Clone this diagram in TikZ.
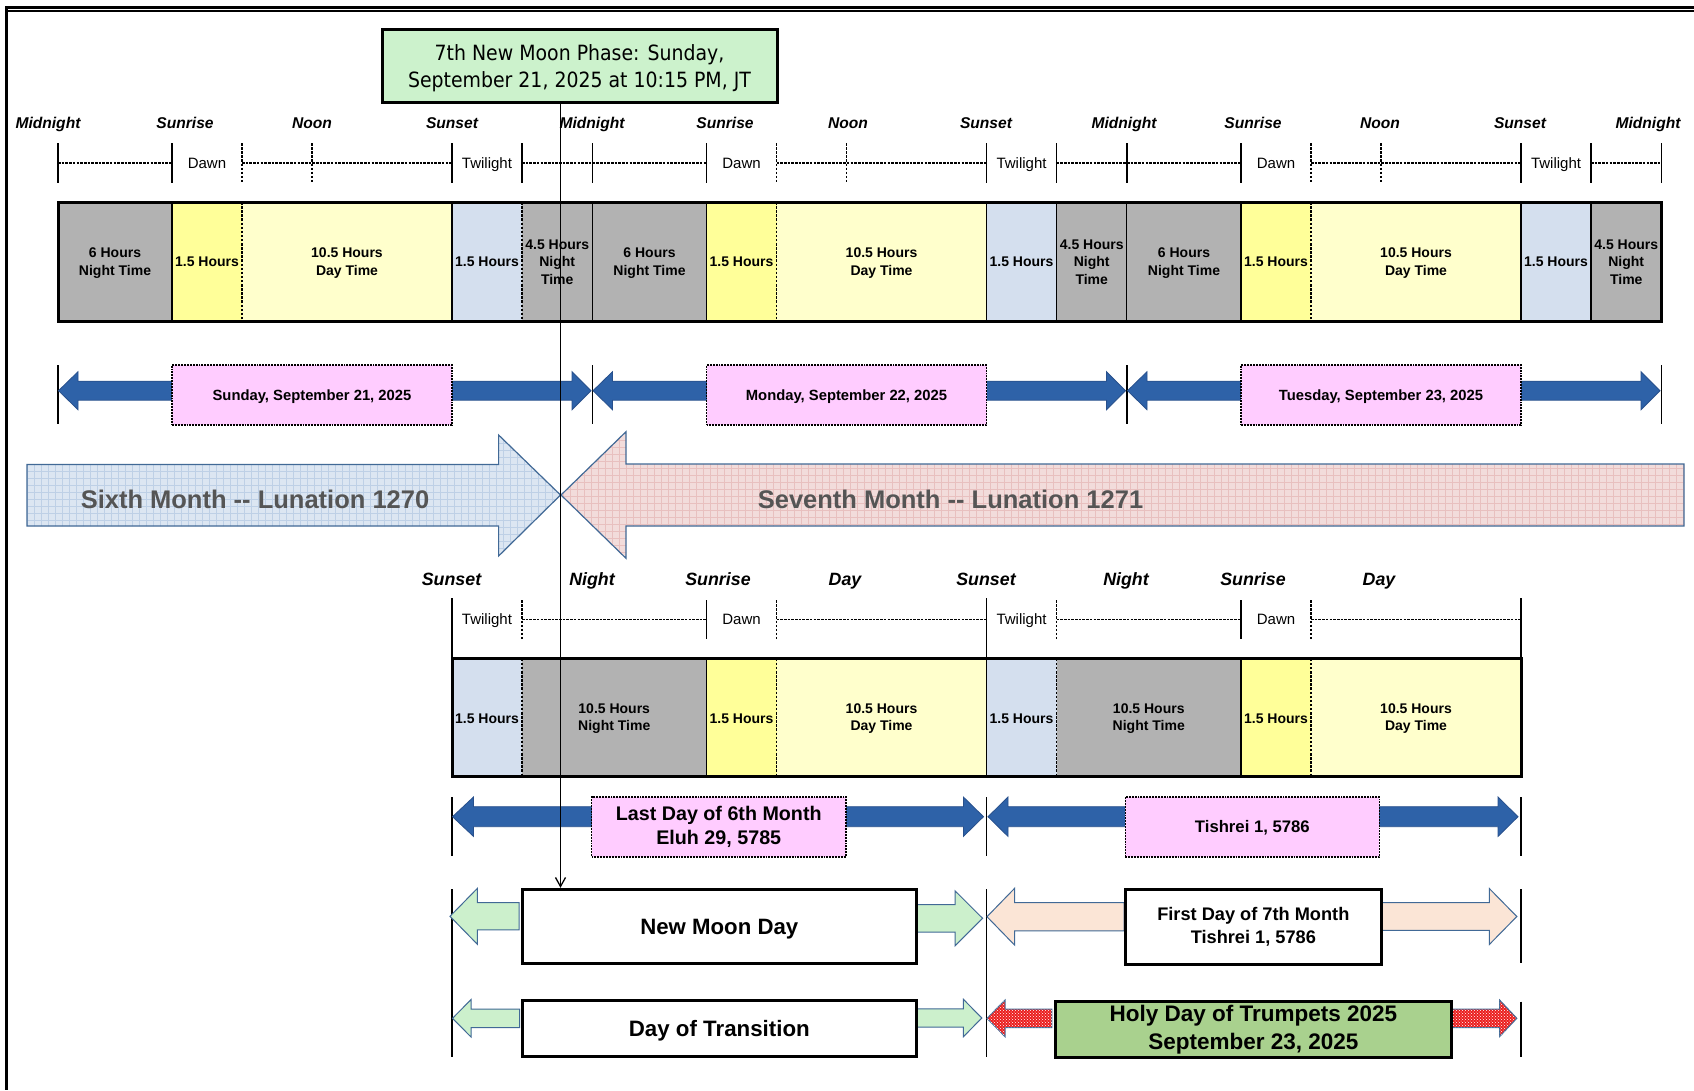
\documentclass[tikz,border=0pt]{standalone}
\usepackage{fontspec}
\setmainfont{Liberation Sans}
\newfontfamily\tahomalike[FakeStretch=0.9]{DejaVu Sans}
\usetikzlibrary{patterns,arrows.meta}

\definecolor{cgray}{RGB}{178,178,178}
\definecolor{cyel}{RGB}{255,255,153}
\definecolor{clyel}{RGB}{255,255,204}
\definecolor{cblue}{RGB}{212,223,238}
\definecolor{cpink}{RGB}{255,204,255}
\definecolor{carrow}{RGB}{46,98,168}
\definecolor{carrowd}{RGB}{40,80,140}
\definecolor{cmoon}{RGB}{204,242,204}
\definecolor{cgreen}{RGB}{204,240,204}
\definecolor{cedge}{RGB}{65,105,150}
\definecolor{cpeach}{RGB}{251,229,214}
\definecolor{choly}{RGB}{169,209,142}
\definecolor{csix}{RGB}{220,230,242}
\definecolor{csixg}{RGB}{190,208,230}
\definecolor{csev}{RGB}{242,220,219}
\definecolor{csevg}{RGB}{232,192,191}
\definecolor{cmtext}{RGB}{85,85,85}
\definecolor{cred}{RGB}{235,30,30}

% block arrow: style, tipx, basex, endx, cy, head half, shaft half
\newcommand{\barw}[7]{%
  \path[#1] (#2,#5) -- (#3,{#5-#6}) -- (#3,{#5-#7}) -- (#4,{#5-#7}) -- (#4,{#5+#7}) -- (#3,{#5+#7}) -- (#3,{#5+#6}) -- cycle;}

\tikzset{
  sl/.style={text height=#1, text depth=0pt},
  lbl/.style={font=\bfseries\itshape\fontsize{15.6}{18}\selectfont, inner sep=0, sl=11.2pt},
  lbltwo/.style={font=\bfseries\itshape\fontsize{17.8}{20}\selectfont, inner sep=0, sl=12.75pt},
  smalltxt/.style={font=\fontsize{15}{18}\selectfont, inner sep=0, sl=10.75pt},
  celltxt/.style={font=\bfseries\fontsize{14}{17.7}\selectfont, align=center, inner sep=0},
  tickline/.style={line width=1.5pt},
  dtickline/.style={line width=1.7pt, dash pattern=on 2.5pt off 1.6pt},
  dline/.style={line width=1.6pt, dash pattern=on 2.6pt off 1.1pt},
  sepsolid/.style={line width=1.5pt},
  sepdot/.style={line width=1.7pt, dash pattern=on 2.5pt off 1.6pt},
  outerbox/.style={line width=3pt},
  bluearr/.style={fill=carrow, draw=carrowd, line width=0.8pt},
  greenarr/.style={fill=cgreen, draw=cedge, line width=1pt},
  peacharr/.style={fill=cpeach, draw=cedge, line width=1pt},
  redarr/.style={fill=cred, draw=cedge, line width=1pt, postaction={pattern=crosshatch dots, pattern color=white}},
  pinkbox/.style={draw, fill=cpink, line width=1.7pt, dash pattern=on 1.9pt off 1pt, inner sep=0, align=center},
  whitebox/.style={draw, fill=white, line width=3pt, inner sep=0, align=center},
  bar/.style={line width=1.5pt},
}

\begin{document}
\begin{tikzpicture}[x=1pt,y=-1pt]
\useasboundingbox (0,0) rectangle (1694,1090);
\fill[white] (0,0) rectangle (1694,1090);

% frame
\draw[line width=2.5pt] (5,7.3) -- (1694,7.3);
\draw[line width=1.5pt] (5,11.2) -- (1694,11.2);
\draw[line width=3pt] (6.3,6) -- (6.3,1090);

% ---------- top labels
\foreach \x/\t [count=\i] in {48/Midnight,185/Sunrise,312/Noon,452/Sunset,592/Midnight,725/Sunrise,848/Noon,986/Sunset,1124/Midnight,1253/Sunrise,1380/Noon,1520/Sunset,1648/Midnight}
  \node[lbl] (tl\i) at (\x,122.7) {\t};

% ---------- top timeline and cells
\foreach \d in {0,1,2}{
  \pgfmathsetmacro{\m}{58+534.5*\d}
  \draw[tickline] (\m,143) -- (\m,183);
  \draw[tickline] (\m+114,143) -- (\m+114,183);
  \draw[dtickline] (\m+184,143) -- (\m+184,183);
  \draw[dtickline] (\m+254,143) -- (\m+254,183);
  \draw[tickline] (\m+394,143) -- (\m+394,183);
  \draw[tickline] (\m+464,143) -- (\m+464,183);
  \draw[dline] (\m,162.7) -- (\m+114,162.7);
  \draw[dline] (\m+184,162.7) -- (\m+394,162.7);
  \draw[dline] (\m+464,162.7) -- (\m+534.5,162.7);
  \node[smalltxt] (dawn\d) at (\m+149,162.7) {Dawn};
  \node[smalltxt] (twi\d) at (\m+429,162.7) {Twilight};
  \fill[cgray] (\m,202) rectangle (\m+114,321.7);
  \fill[cyel] (\m+114,202) rectangle (\m+184,321.7);
  \fill[clyel] (\m+184,202) rectangle (\m+394,321.7);
  \fill[cblue] (\m+394,202) rectangle (\m+464,321.7);
  \fill[cgray] (\m+464,202) rectangle (\m+534.5,321.7);
  \draw[sepsolid] (\m+114,202) -- (\m+114,321.7);
  \draw[sepdot] (\m+184,202) -- (\m+184,321.7);
  \draw[sepsolid] (\m+394,202) -- (\m+394,321.7);
  \draw[sepsolid] (\m+534.5,202) -- (\m+534.5,321.7);
  \node[celltxt] (sixh\d) at (\m+57,263) {6 Hours\\Night Time};
  \node[celltxt] (dawnh\d) at (\m+149,262) {1.5 Hours};
  \node[celltxt] (dayh\d) at (\m+289,263) {10.5 Hours\\Day Time};
  \node[celltxt] (twih\d) at (\m+429,262) {1.5 Hours};
  \node[celltxt] (nighth\d) at (\m+499.25,262) {4.5 Hours\\Night\\Time};
  % row 2 bars and arrows
  \draw[bar] (\m,365) -- (\m,424.3);
  \barw{bluearr}{\m+0.5}{\m+20}{\m+130}{390.7}{19}{9.5}
  \barw{bluearr}{\m+533}{\m+514}{\m+380}{390.7}{19}{9.5}
}
\draw[tickline] (1661.5,143) -- (1661.5,183);
\draw[sepdot] (522,202) -- (522,321.7);
\draw[sepsolid] (1056.5,202) -- (1056.5,321.7);
\draw[sepsolid] (1591,202) -- (1591,321.7);
\draw[outerbox] (58,202) rectangle (1661.5,321.7);
\draw[bar] (1661.5,365) -- (1661.5,424.3);

% day boxes
\node[pinkbox, minimum width=280, minimum height=60, font=\bfseries\fontsize{14.8}{17}\selectfont, sl=10.6pt] (sun) at (312,395) {Sunday, September 21, 2025};
\node[pinkbox, minimum width=280, minimum height=60, font=\bfseries\fontsize{14.8}{17}\selectfont, sl=10.6pt] (mon) at (846.5,395) {Monday, September 22, 2025};
\node[pinkbox, minimum width=280, minimum height=60, font=\bfseries\fontsize{14.8}{17}\selectfont, sl=10.6pt] (tue) at (1381,395) {Tuesday, September 23, 2025};

% ---------- month arrows
\begin{scope}
  \clip (27,464.5) -- (498.6,464.5) -- (498.6,435) -- (560.5,495) -- (498.6,556) -- (498.6,526) -- (27,526) -- cycle;
  \fill[csix] (0,420) rectangle (600,570);
  \foreach \x in {27,34,...,570} \draw[csixg, line width=0.6pt] (\x,430) -- (\x,560);
  \foreach \y in {436,443,...,560} \draw[csixg, line width=0.6pt] (20,\y) -- (570,\y);
\end{scope}
\draw[cedge, line width=1.2pt] (27,464.5) -- (498.6,464.5) -- (498.6,435) -- (560.5,495) -- (498.6,556) -- (498.6,526) -- (27,526) -- cycle;
\begin{scope}
  \clip (561,495) -- (626,431.7) -- (626,464) -- (1684,464) -- (1684,526) -- (626,526) -- (626,558.3) -- cycle;
  \fill[csev] (550,420) rectangle (1694,570);
  \foreach \x in {563,570,...,1690} \draw[csevg, line width=0.6pt] (\x,425) -- (\x,565);
  \foreach \y in {433,440,...,560} \draw[csevg, line width=0.6pt] (555,\y) -- (1690,\y);
\end{scope}
\draw[cedge, line width=1.2pt] (561,495) -- (626,431.7) -- (626,464) -- (1684,464) -- (1684,526) -- (626,526) -- (626,558.3) -- cycle;
\node[font=\bfseries\fontsize{25.5}{30}\selectfont, text=cmtext, inner sep=0, sl=18.3pt] (sixth) at (255,499.5) {Sixth Month -\kern0pt- Lunation 1270};
\node[font=\bfseries\fontsize{25.5}{30}\selectfont, text=cmtext, inner sep=0, sl=18.3pt] (seventh) at (950.5,499.5) {Seventh Month -\kern0pt- Lunation 1271};

% ---------- lower timeline
\foreach \x/\t [count=\i] in {451.5/Sunset,592/Night,718/Sunrise,845/Day,986/Sunset,1126/Night,1253/Sunrise,1379/Day}
  \node[lbltwo] (bl\i) at (\x,579) {\t};
\draw[tickline] (452,598) -- (452,658.7);
\draw[dtickline] (522,600) -- (522,638.7);
\draw[tickline] (706.5,600) -- (706.5,638.7);
\draw[dtickline] (776.5,600) -- (776.5,638.7);
\draw[tickline] (986.5,598) -- (986.5,658.7);
\draw[dtickline] (1056.5,600) -- (1056.5,638.7);
\draw[tickline] (1241,600) -- (1241,638.7);
\draw[dtickline] (1311,600) -- (1311,638.7);
\draw[tickline] (1521,598) -- (1521,658.7);
\draw[dline] (522,619.3) -- (706.5,619.3);
\draw[dline] (776.5,619.3) -- (986.5,619.3);
\draw[dline] (1056.5,619.3) -- (1241,619.3);
\draw[dline] (1311,619.3) -- (1521,619.3);
\node[smalltxt] (btw1) at (487,619.3) {Twilight};
\node[smalltxt] (bdw1) at (741.5,619.3) {Dawn};
\node[smalltxt] (btw2) at (1021.5,619.3) {Twilight};
\node[smalltxt] (bdw2) at (1276,619.3) {Dawn};

\fill[cblue] (452,658.7) rectangle (522,776.7);
\fill[cgray] (522,658.7) rectangle (706.5,776.7);
\fill[cyel] (706.5,658.7) rectangle (776.5,776.7);
\fill[clyel] (776.5,658.7) rectangle (986.5,776.7);
\fill[cblue] (986.5,658.7) rectangle (1056.5,776.7);
\fill[cgray] (1056.5,658.7) rectangle (1241,776.7);
\fill[cyel] (1241,658.7) rectangle (1311,776.7);
\fill[clyel] (1311,658.7) rectangle (1521,776.7);
\draw[sepdot] (522,658.7) -- (522,776.7);
\draw[sepdot] (776.5,658.7) -- (776.5,776.7);
\draw[sepdot] (1056.5,658.7) -- (1056.5,776.7);
\draw[sepdot] (1311,658.7) -- (1311,776.7);
\draw[sepsolid] (706.5,658.7) -- (706.5,776.7);
\draw[sepsolid] (986.5,658.7) -- (986.5,776.7);
\draw[sepsolid] (1241,658.7) -- (1241,776.7);
\draw[outerbox] (452,658.7) rectangle (1521,776.7);
\node[celltxt] (bh1) at (487,718.3) {1.5 Hours};
\node[celltxt] (bh2) at (614.25,718.7) {10.5 Hours\\Night Time};
\node[celltxt] (bh3) at (741.5,718.3) {1.5 Hours};
\node[celltxt] (bh4) at (881.5,718.7) {10.5 Hours\\Day Time};
\node[celltxt] (bh5) at (1021.5,718.3) {1.5 Hours};
\node[celltxt] (bh6) at (1148.75,718.7) {10.5 Hours\\Night Time};
\node[celltxt] (bh7) at (1276,718.3) {1.5 Hours};
\node[celltxt] (bh8) at (1416,718.7) {10.5 Hours\\Day Time};

% ---------- row 5
\foreach \x in {452,986.5,1521} \draw[bar] (\x,797.3) -- (\x,856);
\barw{bluearr}{452.5}{473.5}{600}{816.7}{19.7}{10}
\barw{bluearr}{983.5}{963.4}{840}{816.7}{19.7}{10}
\barw{bluearr}{988}{1008}{1135}{816.7}{19.7}{10}
\barw{bluearr}{1518}{1498}{1370}{816.7}{19.7}{10}
\node[pinkbox, minimum width=254.5, minimum height=60, font=\bfseries\fontsize{19.7}{24.3}\selectfont] (lastday) at (718.75,826.7) {Last Day of 6th Month\\Eluh 29, 5785};
\node[pinkbox, minimum width=254, minimum height=60, font=\bfseries\fontsize{16.7}{20}\selectfont, sl=12pt] (tish) at (1252.35,826.7) {Tishrei 1, 5786};

% ---------- rows 6 and 7
\draw[bar] (452,889.3) -- (452,1056.7);
\draw[bar] (986.5,889.3) -- (986.5,1056.7);
\draw[bar] (1521,889.3) -- (1521,963.3);
\draw[bar] (1521,1001.7) -- (1521,1056.7);

\barw{greenarr}{450}{477.4}{519}{916.3}{28}{13.6}
\barw{greenarr}{982.6}{955}{913.7}{918.3}{27.5}{13.7}
\barw{peacharr}{987}{1014.7}{1124}{916.7}{28.5}{14.2}
\barw{peacharr}{1516.8}{1489.3}{1380}{916.5}{28}{13.8}

\barw{greenarr}{452.5}{471}{519.5}{1018.3}{18.7}{9.2}
\barw{greenarr}{981.8}{963.4}{916.4}{1018}{18.7}{9.2}
\barw{redarr}{987}{1005}{1051.8}{1018.3}{18.3}{9.2}
\barw{redarr}{1516.8}{1499.6}{1451}{1018.3}{18.3}{9.2}

\node[whitebox, minimum width=394.2, minimum height=74, font=\bfseries\fontsize{22.2}{26}\selectfont, sl=15.9pt] (nmd) at (719.3,926.3) {New Moon Day};
\node[whitebox, minimum width=255.3, minimum height=75, font=\bfseries\fontsize{18.2}{23.3}\selectfont] (first) at (1253.35,926.5) {First Day of 7th Month\\Tishrei 1, 5786};
\node[whitebox, minimum width=394.2, minimum height=56.7, font=\bfseries\fontsize{22.3}{26}\selectfont, sl=16pt] (dot) at (719.3,1028.35) {Day of Transition};
\node[whitebox, fill=choly, minimum width=395.3, minimum height=56.7, font=\bfseries\fontsize{22.5}{28.5}\selectfont] (holy) at (1253.35,1029.5) {Holy Day of Trumpets 2025\\September 23, 2025};

% ---------- new moon box and connector
\node[draw, line width=3pt, fill=cmoon, minimum width=395, minimum height=73.7, inner sep=0] (moon) at (579.5,65.9) {};
\node[inner sep=0, align=center, font=\tahomalike\fontsize{21}{27}\selectfont] (moontxt) at (579.5,67.8) {7th New Moon Phase: Sunday,\\September 21, 2025 at 10:15 PM, JT};
\coordinate (mx) at (560.5,0);
\draw[line width=1.3pt, -{Straight Barb[length=9pt,width=10pt,line width=1.3pt]}] (moon.south -| mx) -- (nmd.north -| mx);
\end{tikzpicture}
\end{document}
